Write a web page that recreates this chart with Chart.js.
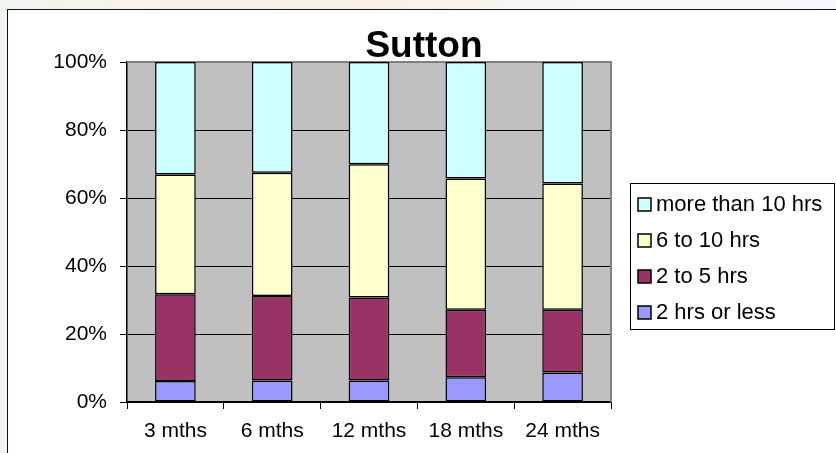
<!DOCTYPE html>
<html lang="en">
<head>
    <meta charset="UTF-8">
    <title>Sutton</title>
    <script src="https://cdn.jsdelivr.net/npm/chart.js"></script>
    <style>
        html, body { margin: 0; padding: 0; }
        body {
            width: 836px; height: 453px; overflow: hidden; position: relative;
            background: linear-gradient(90deg, #f0f4ef 0%, #f8f1ea 20%, #f9efe6 45%, #f6f7f9 70%, #f5f8fc 100%);
        }
        .frame {
            position: absolute; left: 7px; top: 9px; width: 840px; height: 460px;
            background: #fff; border: 1.5px solid #111;
        }
        #chart { position: absolute; left: 0; top: 0; }
    </style>
</head>
<body>
    <div class="frame"></div>
    <canvas id="chart" width="836" height="453"></canvas>
    <script>
        // data (percent of each period)
        const categories = ['3 mths', '6 mths', '12 mths', '18 mths', '24 mths'];
        const seriesNames = ['2 hrs or less', '2 to 5 hrs', '6 to 10 hrs', 'more than 10 hrs'];
        const upTo2 = [6.2, 6.3, 6.3, 7.3, 8.7];
        const from2to5 = [25.5, 24.9, 24.4, 19.8, 18.4];
        const from6to10 = [35.2, 36.2, 39.2, 38.6, 37.2];
        const over10 = [33.1, 32.6, 30.1, 34.3, 35.7];
        const yTicks = [0, 20, 40, 60, 80, 100];
        const colors = ['#9999FF', '#993366', '#FFFFCC', '#CCFFFF'];

        const font = "'Liberation Sans', Arial, sans-serif";

        // grey plot area + title + legend drawn by hand
        const excelLook = {
            id: 'excelLook',
            beforeDatasetsDraw(chart) {
                const a = chart.chartArea;
                const c = chart.ctx;
                c.save();
                c.strokeStyle = '#808080';
                c.lineWidth = 2;
                c.beginPath();
                c.moveTo(a.left, a.top);
                c.lineTo(a.right, a.top);
                c.lineTo(a.right, a.bottom);
                c.stroke();
                c.restore();
            },
            beforeDraw(chart) {
                const a = chart.chartArea;
                const c = chart.ctx;
                c.save();
                c.fillStyle = '#C0C0C0';
                c.fillRect(a.left, a.top, a.right - a.left, a.bottom - a.top);
                c.restore();
            },
            afterDraw(chart) {
                const c = chart.ctx;
                c.save();
                // title
                c.fillStyle = '#000';
                c.font = 'bold 37px ' + font;
                c.textAlign = 'center';
                c.textBaseline = 'alphabetic';
                c.fillText('Sutton', 424, 57);
                // legend box
                c.fillStyle = '#fff';
                c.fillRect(630, 183, 205, 147);
                c.strokeStyle = '#000';
                c.lineWidth = 1;
                c.strokeRect(630.5, 183.5, 204, 146);
                c.font = '22px ' + font;
                c.textAlign = 'left';
                c.textBaseline = 'middle';
                const rows = [3, 2, 1, 0];
                rows.forEach((k, i) => {
                    const y = 204 + i * 36;
                    c.fillStyle = colors[k];
                    c.fillRect(638, y - 6, 13, 13);
                    c.strokeStyle = '#000';
                    c.lineWidth = 1.5;
                    c.strokeRect(638, y - 6, 13, 13);
                    c.fillStyle = '#000';
                    c.fillText(seriesNames[k], 656, y + 1);
                });
                c.restore();
            }
        };

        const values = [upTo2, from2to5, from6to10, over10];
        const datasets = values.map((v, i) => ({
            label: seriesNames[i],
            data: v,
            backgroundColor: colors[i],
            borderColor: '#000',
            borderWidth: 1.5,
            borderSkipped: false,
            barPercentage: 0.42,
            categoryPercentage: 1
        }));

        new Chart(document.getElementById('chart'), {
            type: 'bar',
            data: { labels: categories, datasets: datasets },
            options: {
                responsive: false,
                animation: false,
                layout: { padding: { left: 0, top: 62, right: 225, bottom: 0 } },
                plugins: {
                    legend: { display: false },
                    title: { display: false },
                    tooltip: { enabled: false }
                },
                scales: {
                    x: {
                        stacked: true,
                        afterFit(s) { s.height = 51; },
                        grid: { drawOnChartArea: false, drawTicks: true, tickLength: 7, color: '#000', lineWidth: 1 },
                        border: { color: '#000', width: 1.5 },
                        ticks: { color: '#000', font: { family: font, size: 21 }, padding: 10, maxRotation: 0, autoSkip: false }
                    },
                    y: {
                        stacked: true,
                        min: 0,
                        max: 100,
                        afterFit(s) { s.width = 127; },
                        afterBuildTicks(s) { s.ticks = yTicks.map(v => ({ value: v })); },
                        grid: { color: '#000', lineWidth: 1, tickLength: 7 },
                        border: { color: '#000', width: 1.5 },
                        ticks: {
                            color: '#000', padding: 13,
                            font: { family: font, size: 21 },
                            callback: v => v + '%'
                        }
                    }
                }
            },
            plugins: [excelLook]
        });
    </script>
</body>
</html>
